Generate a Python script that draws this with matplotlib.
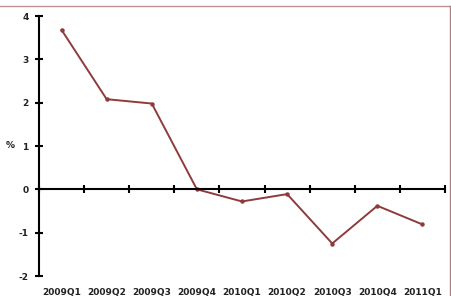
import numpy as np
import matplotlib
matplotlib.use("Agg")
import matplotlib.pyplot as plt
from matplotlib.lines import Line2D

quarters = ['2009Q1', '2009Q2', '2009Q3', '2009Q4', '2010Q1',
            '2010Q2', '2010Q3', '2010Q4', '2011Q1']
values = [3.68, 2.08, 1.98, 0.0, -0.28, -0.11, -1.25, -0.38, -0.81]
y_ticks = [-2, -1, 0, 1, 2, 3, 4]

plt.rcParams['font.family'] = 'DejaVu Sans'
plt.rcParams['font.weight'] = 'bold'
fs = 6.5

fig = plt.figure(figsize=(4.52, 2.96), dpi=100)
ax = fig.add_axes([39/452, 20/296, 406/452, 260/296])

x = np.arange(len(quarters)) + 0.5
ax.plot(x, values, color='#8e3b3b', lw=1.4, marker='o', ms=2.2)

ax.set_xlim(0, len(quarters))
ax.set_ylim(-2, 4)
ax.set_yticks(y_ticks)
ax.set_yticklabels([str(t) for t in y_ticks], fontsize=fs, fontweight='bold',
                   color='#222222')

for s in ['top', 'right']:
    ax.spines[s].set_visible(False)
ax.spines['left'].set_linewidth(1.5)
ax.spines['bottom'].set_position(('data', 0))
ax.spines['bottom'].set_linewidth(1.5)

ax.set_xticks(np.arange(len(quarters) + 1))
ax.set_xticklabels([])
ax.tick_params(axis='both', direction='inout', length=6, width=1.5, pad=3)
ax.tick_params(axis='y', pad=4.5)

for xi, q in zip(x, quarters):
    ax.text(xi, -0.062, q, transform=ax.get_xaxis_transform(),
            ha='center', va='center', fontsize=fs, fontweight='bold',
            color='#222222')

ax.text(-0.059, 1, '%', transform=ax.get_yaxis_transform(),
        ha='right', va='center', fontsize=fs, fontweight='bold',
        color='#222222')

# outer frame (top and right visible)
fig.add_artist(Line2D([0, 450/452], [1 - 6/296, 1 - 6/296],
                      transform=fig.transFigure, color='#c09090', lw=1))
fig.add_artist(Line2D([450/452, 450/452], [0, 1 - 6/296],
                      transform=fig.transFigure, color='#b08080', lw=1))

fig.savefig('out.png', dpi=100)
